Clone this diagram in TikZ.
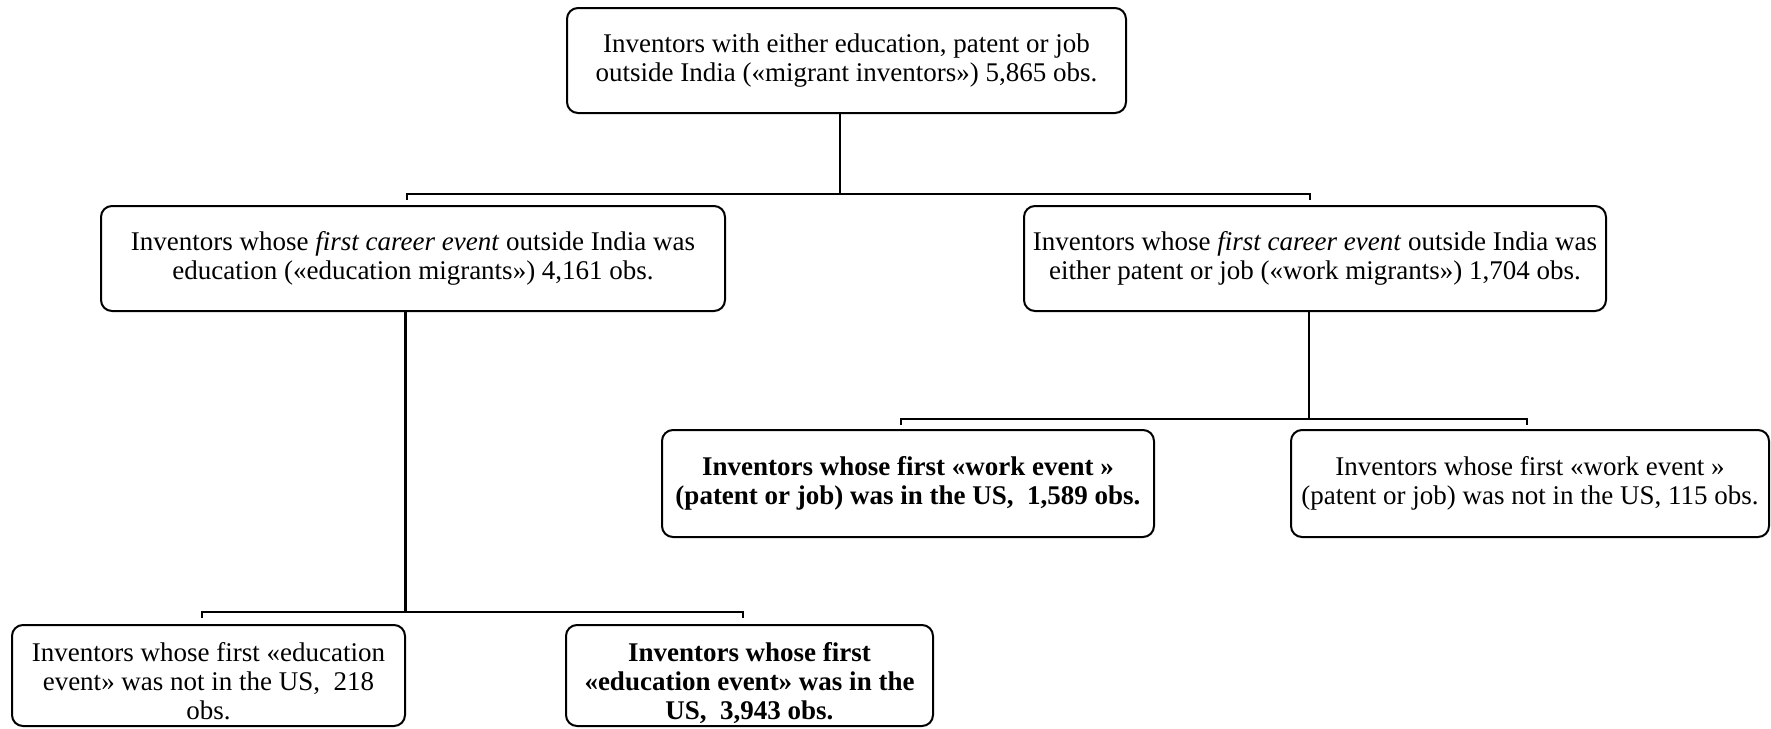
\documentclass[tikz,border=0pt]{standalone}
\usepackage{fontspec}
\setmainfont{Liberation Serif}
\newcommand{\lowtext}[1]{\raisebox{-4.5pt}[\height][\depth]{\begin{tabular}{@{}c@{}}#1\end{tabular}}}
\begin{document}
\begin{tikzpicture}[x=0.5pt,y=-0.5pt,
  box/.style={draw, line width=1pt, rounded corners=5.5pt, align=center, inner sep=0pt,
    font=\fontsize{13.5}{14.2}\selectfont},
  conn/.style={line width=1.1pt}]
\useasboundingbox (0,0) rectangle (1771,728);
\node[box, minimum width=279.5pt, minimum height=52.5pt] (top) at (846.5,60.5)
  {Inventors with either education, patent or job\\outside India («migrant inventors») 5,865 obs.};
\node[box, minimum width=312pt, minimum height=52.5pt] (lm) at (413,258.5)
  {Inventors whose \textit{first career event} outside India was\\education («education migrants») 4,161 obs.};
\node[box, minimum width=291pt, minimum height=52.5pt] (rm) at (1315,258.5)
  {Inventors whose \textit{first career event} outside India was\\either patent or job («work migrants») 1,704 obs.};
\node[box, minimum width=246pt, minimum height=53.5pt, font=\fontsize{13.5}{14.2}\selectfont\bfseries] (ba) at (908,483.5)
  {Inventors whose first «work event »\\(patent or job) was in the US,~~1,589 obs.};
\node[box, minimum width=239pt, minimum height=53.5pt] (bb) at (1530,483.5)
  {Inventors whose first «work event »\\(patent or job) was not in the US, 115 obs.};
\node[box, minimum width=196.5pt, minimum height=50.5pt, font=\fontsize{13.5}{14.4}\selectfont] (bl) at (208.5,675.5)
  {\lowtext{Inventors whose first «education\\event» was not in the US,~~218\\obs.}};
\node[box, minimum width=183.5pt, minimum height=50.5pt, font=\fontsize{13.5}{14.4}\selectfont\bfseries] (bm) at (749.5,675.5)
  {\lowtext{Inventors whose first\\«education event» was in the\\US,~~3,943 obs.}};
% junctions
\coordinate (j1) at (840,194);
\coordinate (j1l) at (407,194);
\coordinate (j1r) at (1310,194);
\coordinate (j2) at (405.5,612);
\coordinate (j2l) at (202,612);
\coordinate (j2r) at (743,612);
\coordinate (j3) at (1309,419);
\coordinate (j3l) at (901,419);
\coordinate (j3r) at (1527,419);
\draw[conn] (top.south -| j1) -- (j1);
\draw[conn] ([yshift=-3pt]j1l) -- (j1l) -- (j1r) -- ([yshift=-3pt]j1r);
\draw[conn] (lm.south -| j2) -- (j2);
\draw[conn] ([yshift=-3pt]j2l) -- (j2l) -- (j2r) -- ([yshift=-3pt]j2r);
\draw[conn] (rm.south -| j3) -- (j3);
\draw[conn] ([yshift=-3pt]j3l) -- (j3l) -- (j3r) -- ([yshift=-3pt]j3r);
\end{tikzpicture}
\end{document}
